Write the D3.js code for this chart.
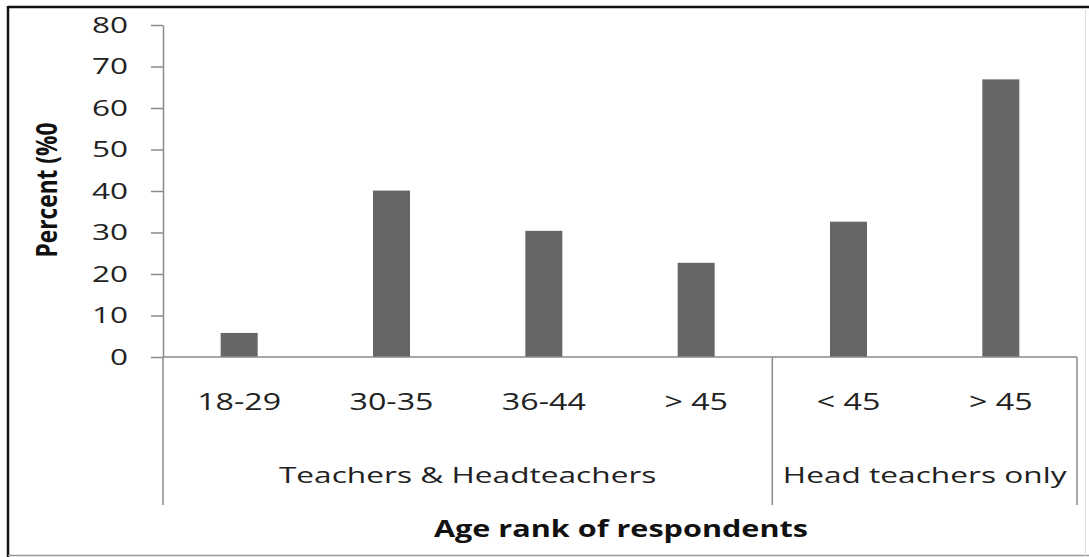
<!DOCTYPE html>
<html>
<head>
<meta charset="utf-8">
<script src="https://cdn.jsdelivr.net/npm/d3@7"></script>
<style>
  body { margin: 0; background: #fff; }
  svg { display: block; font-family: "Open Sans", "DejaVu Sans", sans-serif; }
</style>
</head>
<body>
<svg id="chart" width="1089" height="557"></svg>
<script>
// chart data
var categories = ["18-29", "30-35", "36-44", "> 45", "< 45", "> 45"];
var values = [5.8, 40.1, 30.4, 22.7, 32.6, 66.9];
var groups = ["Teachers & Headteachers", "Head teachers only"];
var groupSizes = [4, 2];
var yTicks = [0, 10, 20, 30, 40, 50, 60, 70, 80];

var svg = d3.select("#chart");
var axisColor = "#8a8a8a";
var stretch = 1.4; // the scanned chart is wider than its fonts

// outer frame (dark top/left, light bottom/right like the scan)
svg.append("line").attr("x1", 8).attr("x2", 1089).attr("y1", 7).attr("y2", 7)
  .attr("stroke", "#111").attr("stroke-width", 2.5);
svg.append("line").attr("x1", 8).attr("x2", 8).attr("y1", 6).attr("y2", 557)
  .attr("stroke", "#111").attr("stroke-width", 2.5);
svg.append("line").attr("x1", 8).attr("x2", 1089).attr("y1", 555.5).attr("y2", 555.5)
  .attr("stroke", "#999").attr("stroke-width", 1.5);
svg.append("line").attr("x1", 1085.5).attr("x2", 1085.5).attr("y1", 8).attr("y2", 556)
  .attr("stroke", "#e2e2e2").attr("stroke-width", 1);

var plotLeft = 163, plotRight = 1077, plotTop = 25, plotBottom = 357;

var x = d3.scaleBand()
  .domain(d3.range(categories.length))
  .range([plotLeft, plotRight])
  .paddingInner(0)
  .paddingOuter(0);

var y = d3.scaleLinear().domain([0, 80]).range([plotBottom, plotTop]);

// bars
svg.append("g").selectAll("rect")
  .data(values)
  .join("rect")
  .attr("x", function(d, i) { return x(i) + x.bandwidth() / 2 - 18.5; })
  .attr("width", 37)
  .attr("y", function(d) { return y(d); })
  .attr("height", function(d) { return y(0) - y(d); })
  .attr("fill", "#666666");

// y axis
var yAxis = svg.append("g")
  .attr("transform", "translate(" + plotLeft + ",0)")
  .call(d3.axisLeft(y).tickValues(yTicks).tickSize(12).tickSizeOuter(0).tickFormat(""));
yAxis.select(".domain").attr("stroke", axisColor).attr("stroke-width", 1.5);
yAxis.selectAll(".tick line").attr("stroke", axisColor).attr("stroke-width", 1.5);

// tick labels drawn stretched sideways
svg.append("g").selectAll("text")
  .data(yTicks)
  .join("text")
  .attr("transform", function(d) { return "translate(128," + y(d) + ") scale(1.5,1)"; })
  .attr("dy", "0.36em")
  .attr("text-anchor", "end")
  .attr("fill", "#222")
  .style("font-size", "21px")
  .text(function(d) { return d; });

// x axis baseline
svg.append("line")
  .attr("x1", plotLeft).attr("x2", plotRight)
  .attr("y1", y(0)).attr("y2", y(0))
  .attr("stroke", axisColor).attr("stroke-width", 1.5);

// category labels
svg.append("g").selectAll("text")
  .data(categories)
  .join("text")
  .attr("transform", function(d, i) {
    return "translate(" + (x(i) + x.bandwidth() / 2) + ",410) scale(" + stretch + ",1)";
  })
  .attr("text-anchor", "middle")
  .attr("fill", "#222")
  .style("font-size", "23px")
  .text(function(d) { return d; });

// group dividers and labels
var start = 0;
var dividerIdx = [0];
groupSizes.forEach(function(n) { start += n; dividerIdx.push(start); });
function edge(i) { return i < categories.length ? x(i) : plotRight; }

svg.append("g").selectAll("line")
  .data(dividerIdx)
  .join("line")
  .attr("x1", edge)
  .attr("x2", edge)
  .attr("y1", y(0))
  .attr("y2", 505)
  .attr("stroke", axisColor)
  .attr("stroke-width", 1.5);

svg.append("g").selectAll("text")
  .data(groups)
  .join("text")
  .attr("transform", function(d, g) {
    var cx = (edge(dividerIdx[g]) + edge(dividerIdx[g + 1])) / 2;
    return "translate(" + cx + ",483) scale(" + stretch + ",1)";
  })
  .attr("text-anchor", "middle")
  .attr("fill", "#222")
  .style("font-size", "22.6px")
  .text(function(d) { return d; });

// axis titles
svg.append("text")
  .attr("transform", "translate(621,537) scale(1.36,1)")
  .attr("text-anchor", "middle")
  .attr("fill", "#111")
  .style("font-size", "22.5px")
  .style("font-weight", "bold")
  .text("Age rank of respondents");

svg.append("text")
  .attr("transform", "translate(57,190) scale(1.4,1) rotate(-90)")
  .attr("text-anchor", "middle")
  .attr("fill", "#111")
  .attr("textLength", 135)
  .attr("lengthAdjust", "spacingAndGlyphs")
  .style("font-size", "21px")
  .style("font-weight", "bold")
  .text("Percent (%0");
</script>
</body>
</html>
